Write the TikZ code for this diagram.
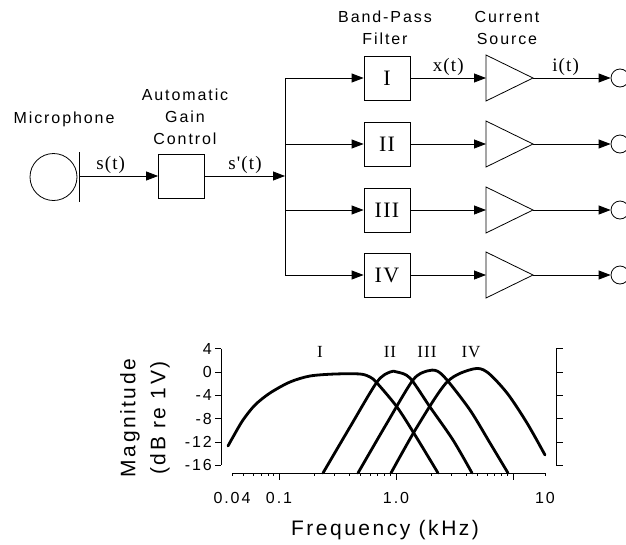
\documentclass[tikz,border=0pt]{standalone}
\usepackage{fontspec}
\usetikzlibrary{arrows.meta}
\newfontfamily\lblsans[LetterSpace=12]{Liberation Sans}
\newfontfamily\lblserif[LetterSpace=6]{Liberation Serif}
\tikzset{
  blk/.style={draw, line width=0.8pt, minimum width=46pt, minimum height=44pt, inner sep=0pt,
    font=\lblserif\fontsize{22}{24}\selectfont},
  sig/.style={line width=0.8pt, -{Triangle[length=12pt,width=9pt]}},
  wire/.style={line width=0.8pt},
  title/.style={align=center, font=\lblsans\fontsize{16}{22}\selectfont},
  sname/.style={above, inner sep=2pt, font=\lblserif\fontsize{19}{20}\selectfont},
  resp/.style={line width=2.8pt, line cap=round, line join=round},
  axtick/.style={line width=0.8pt},
  ticklbl/.style={inner sep=1pt, font=\lblsans\fontsize{16}{18}\selectfont},
  bandlbl/.style={font=\lblserif\fontsize{17}{20}\selectfont},
}
\begin{document}
\begin{tikzpicture}[x=1pt,y=-1pt]
\clip (0,0) rectangle (626,544);

% block diagram
\node[draw, circle, line width=0.8pt, minimum size=47pt] (mic) at (53.5,177) {};
\draw[wire] (79,152) -- (79,202);
\coordinate (micout) at (79,176);
\node[title] (miclbl) at (64,119) {Microphone};

\node[blk] (agc) at (181.5,176) {};
\node[title] (agclbl) at (185,116.5) {Automatic\\Gain\\Control};
\coordinate (bus) at (285,176);
\draw[sig] (micout) -- node[sname, pos=0.4] {s(t)} (agc.west);
\draw[sig] (agc.east) -- node[sname] {s'(t)} (bus);

\coordinate (bus1) at (285,78);
\coordinate (bus2) at (285,144);
\coordinate (bus3) at (285,210);
\coordinate (bus4) at (285,275);
\draw[wire] (bus1) -- (bus4);

\node[title] (bpflbl) at (385,28) {Band-Pass\\Filter};
\node[title] (amplbl) at (507,28) {Current\\Source};

\node[blk] (bpf1) at (387,78) {I};
\node[blk] (bpf2) at (387,144) {II};
\node[blk] (bpf3) at (387,210) {III};
\node[blk] (bpf4) at (387,275) {IV};

\draw[wire] (486,55) -- (533,78) -- (486,101) -- cycle;
\draw[wire] (486,121) -- (533,144) -- (486,167) -- cycle;
\draw[wire] (486,187) -- (533,210) -- (486,233) -- cycle;
\draw[wire] (486,252) -- (533,275) -- (486,298) -- cycle;
\coordinate (amp1in) at (486,78);  \coordinate (amp1out) at (533,78);
\coordinate (amp2in) at (486,144); \coordinate (amp2out) at (533,144);
\coordinate (amp3in) at (486,210); \coordinate (amp3out) at (533,210);
\coordinate (amp4in) at (486,275); \coordinate (amp4out) at (533,275);

\node[draw, circle, line width=0.8pt, minimum size=18pt, inner sep=0pt] (elec1) at (620,78) {};
\node[draw, circle, line width=0.8pt, minimum size=18pt, inner sep=0pt] (elec2) at (620,144) {};
\node[draw, circle, line width=0.8pt, minimum size=18pt, inner sep=0pt] (elec3) at (620,210) {};
\node[draw, circle, line width=0.8pt, minimum size=18pt, inner sep=0pt] (elec4) at (620,275) {};

\draw[sig] (bus1) -- (bpf1.west);
\draw[sig] (bus2) -- (bpf2.west);
\draw[sig] (bus3) -- (bpf3.west);
\draw[sig] (bus4) -- (bpf4.west);
\draw[sig] (bpf1.east) -- node[sname] {x(t)} (amp1in);
\draw[sig] (bpf2.east) -- (amp2in);
\draw[sig] (bpf3.east) -- (amp3in);
\draw[sig] (bpf4.east) -- (amp4in);
\draw[sig] (amp1out) -- node[sname, pos=0.42] {i(t)} (elec1.west);
\draw[sig] (amp2out) -- (elec2.west);
\draw[sig] (amp3out) -- (elec3.west);
\draw[sig] (amp4out) -- (elec4.west);

% response plot
\draw[axtick] (221,348.7) -- (221,465.3);
\draw[axtick] (556,348.7) -- (556,465.3);
\foreach \db in {4,0,-4,-8,-12,-16} {
  \pgfmathsetmacro{\yy}{372-5.83*\db}
  \draw[axtick] (215,\yy) -- (221,\yy);
  \draw[axtick] (556,\yy) -- (563,\yy);
  \node[ticklbl, anchor=east] at (213,\yy) {\db};
}
\draw[axtick] (232,473) -- (545,473);
\foreach \f in {0.04,0.05,0.06,0.07,0.08,0.09,0.2,0.3,0.4,0.5,0.6,0.7,0.8,0.9,2,3,4,5,6,7,8,9} {
  \pgfmathsetmacro{\xx}{396+117*log10(\f)}
  \draw[axtick] (\xx,473) -- (\xx,476);
}
\draw[axtick] (545,473) -- (545,476);
\foreach \xx in {279,396,513} \draw[axtick] (\xx,473) -- (\xx,480);
\node[ticklbl] (f004) at (232,498) {0.04};
\node[ticklbl] (f01) at (279,498) {0.1};
\node[ticklbl] (f1) at (396,498) {1.0};
\node[ticklbl] (f10) at (545,498) {10};
\node[font=\lblsans\fontsize{21}{24}\selectfont] (xlbl) at (385,530) {Frequency (kHz)};
\node[rotate=90, align=center, font=\lblsans\fontsize{21}{30}\selectfont] (ylbl) at (145,418)
  {Magnitude\\(dB re 1V)};

\draw[resp] plot[smooth] coordinates {(228,446) (233,437) (243,420) (255,405) (270,393)
  (290,382) (310,376) (335,374) (360,374) (370,377) (377,383) (397,407) (415,435) (438,473)};
\draw[resp] plot[smooth] coordinates {(323,473) (350,427) (377,382) (390,372) (397,372)
  (410,378) (430,407) (453,440) (472,473)};
\draw[resp] plot[smooth] coordinates {(358,473) (387,423) (413,380) (427,371) (437,371)
  (447,380) (470,410) (490,443) (508,473)};
\draw[resp] plot[smooth] coordinates {(391,473) (417,427) (447,382) (473,369) (487,372)
  (507,393) (527,423) (545,455)};
\node[bandlbl] (band1) at (320,352) {I};
\node[bandlbl] (band2) at (390,352) {II};
\node[bandlbl] (band3) at (427,352) {III};
\node[bandlbl] (band4) at (471,352) {IV};
\end{tikzpicture}
\end{document}
